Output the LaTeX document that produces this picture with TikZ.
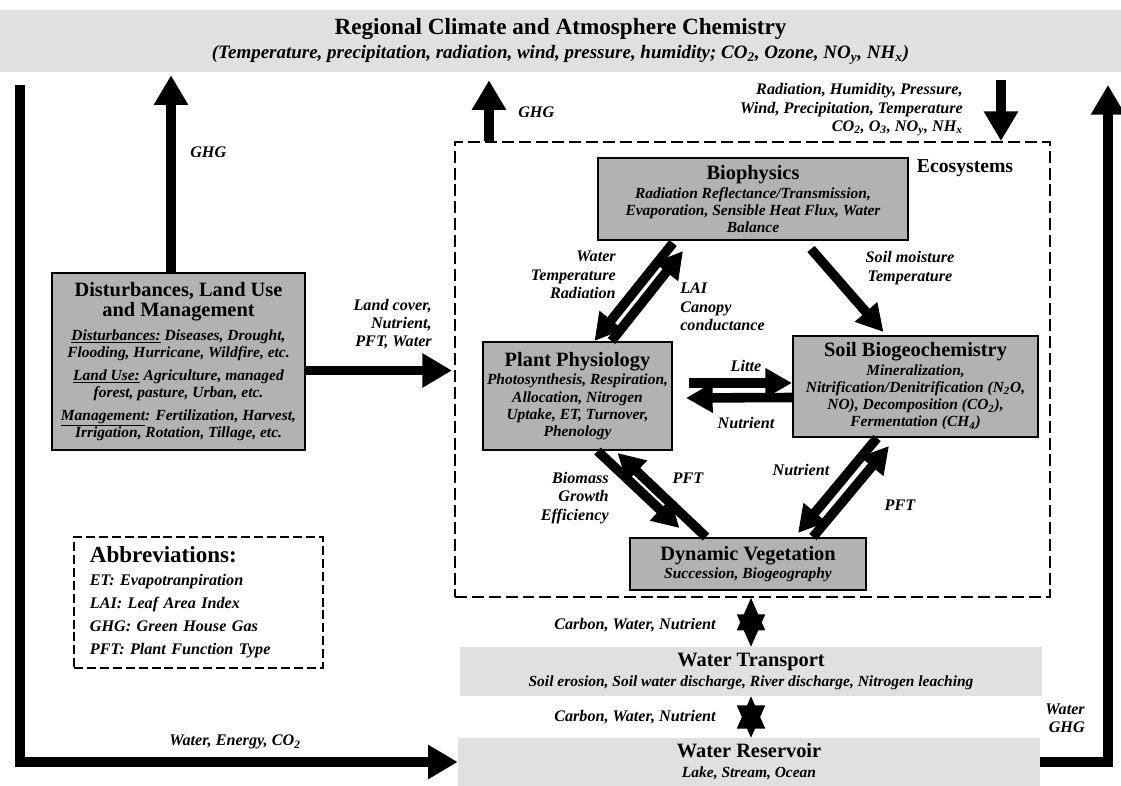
\documentclass[tikz,border=0pt]{standalone}
\usepackage{fontspec}
\setmainfont{Liberation Serif}
\usetikzlibrary{arrows.meta,positioning,calc}

\definecolor{boxgray}{RGB}{178,178,178}
\definecolor{bandgray}{RGB}{224,224,224}
\newcommand{\pxu}{0.025cm}
\newcommand{\hd}[1]{{\upshape\fontsize{14.5}{16}\selectfont #1}}

\begin{document}
\begin{tikzpicture}[x=0.025cm, y=-0.025cm,
    font=\bfseries\itshape\fontsize{11}{12.2}\selectfont,
    box/.style={draw, line width=1.4pt, fill=boxgray, align=center, inner sep=0pt},
    band/.style={fill=bandgray, align=center, inner sep=0pt},
    lbl/.style={font=\bfseries\itshape\fontsize{11.5}{13}\selectfont, inner sep=0pt},
    big/.style={line width=7pt, -{Triangle[width=23pt,length=21pt]}},
    fat/.style={line width=6.8pt, -{Triangle[width=20pt,length=19pt]}},
    star/.style={line width=1pt, {Triangle[width=20pt,length=23pt]}-{Triangle[width=20pt,length=23pt]}}]

    \useasboundingbox (0,0) rectangle (1121,786);

    \node[band, minimum width=1121*\pxu, minimum height=62*\pxu] (climate) at (560.5,41)
        {{\upshape\fontsize{16.5}{18}\selectfont Regional Climate and Atmosphere Chemistry}\\[3pt]
         {\fontsize{13.5}{15}\selectfont (Temperature, precipitation, radiation, wind, pressure, humidity; CO\textsubscript{2}, Ozone, NO\textsubscript{y}, NH\textsubscript{x})}};

    \node[box, minimum width=253*\pxu, minimum height=177*\pxu] (dist) at (178.5,361.5)
        {\hd{Disturbances, Land Use}\\[1pt] \hd{and Management}\\[5pt]
         \underline{Disturbances:} Diseases, Drought,\\ Flooding, Hurricane, Wildfire, etc.\\[4pt]
         \underline{Land Use:} Agriculture, managed\\ forest, pasture, Urban, etc.\\[4pt]
         \underline{Management}: Fertilization, Harvest,\\ Irrigation, Rotation, Tillage, etc.};

    \node[draw, dashed, dash pattern=on 8.5pt off 3.5pt, line width=1.4pt,
          minimum width=595*\pxu, minimum height=455*\pxu] (eco) at (752.5,369.5) {};
    \node[font=\bfseries\fontsize{14}{16}\selectfont] (ecolbl) at (965,168) {Ecosystems};

    \node[box, minimum width=310*\pxu, minimum height=82*\pxu] (bio) at (753,199)
        {\hd{Biophysics}\\[1pt] Radiation Reflectance/Transmission,\\ Evaporation, Sensible Heat Flux, Water\\ Balance};
    \node[box, minimum width=189*\pxu, minimum height=108*\pxu] (plant) at (577.5,396)
        {\hd{Plant Physiology}\\[1pt] Photosynthesis, Respiration,\\ Allocation, Nitrogen\\ Uptake, ET, Turnover,\\ Phenology};
    \node[box, minimum width=245*\pxu, minimum height=101*\pxu] (soil) at (915.5,386.5)
        {\hd{Soil Biogeochemistry}\\[1pt] Mineralization,\\ Nitrification/Denitrification (N\textsubscript{2}O,\\ NO), Decomposition (CO\textsubscript{2}),\\ Fermentation (CH\textsubscript{4})};
    \node[box, minimum width=236*\pxu, minimum height=52*\pxu] (dyn) at (748,564)
        {\hd{Dynamic Vegetation}\\[1pt] Succession, Biogeography};

    \node[band, minimum width=582*\pxu, minimum height=49*\pxu] (transport) at (751,671.5)
        {\hd{Water Transport}\\[2pt] Soil erosion, Soil water discharge, River discharge, Nitrogen leaching};
    \node[band, minimum width=582*\pxu, minimum height=48*\pxu] (reservoir) at (749,762)
        {\hd{Water Reservoir}\\[2pt] Lake, Stream, Ocean};

    \node[draw, dashed, dash pattern=on 6.4pt off 2.8pt, line width=1.3pt, anchor=west,
          text width=217*\pxu, inner xsep=16*\pxu, minimum height=131*\pxu, align=left,
          font=\bfseries\itshape\fontsize{11.5}{16.4}\selectfont] (abbr) at (73,602.5)
        {{\upshape\fontsize{16.4}{18}\selectfont Abbreviations:}\\ ET: Evapotranpiration\\ LAI: Leaf Area Index\\ GHG: Green House Gas\\ PFT: Plant Function Type};

    \coordinate (ltop) at (20,85);
    \coordinate (rtop) at (1108,85);

    % outer loop
    \draw[big] (ltop) |- (reservoir.west);
    \draw[big] (reservoir.east) -| (rtop);
    \draw[big] ($(dist.north)+(-7.5,0)$) -- ($(dist.north |- climate.south)+(-7.5,3)$);
    \draw[big] ($(dist.east)+(0,9)$) -- ($(dist.east -| eco.west)+(-2,9)$);
    \draw[big] ($(eco.north west)+(35,0)$) -- ($(eco.north west |- climate.south)+(35,8)$);
    \draw[big] ($(eco.north east |- climate.south)+(-50,8)$) -- ($(eco.north east)+(-50,0)$);

    % inside ecosystems
    \draw[fat] ($(bio.south)+(58,8)$) -- ($(soil.north)+(-32,-3)$);
    \draw[fat] ($(bio.south)+(-80,2)$) -- ($(plant.north)+(17,0)$);
    \draw[fat] ($(plant.north)+(34,0)$) -- ($(bio.south)+(-70,10)$);
    \draw[fat] ($(plant.east)+(16,-13)$) -- ($(soil.west)+(0,-3.5)$);
    \draw[fat] ($(soil.west)+(0,11)$) -- ($(plant.east)+(13,2)$);
    \draw[fat] ($(plant.south)+(20,0)$) -- ($(dyn.north)+(-68.5,-9)$);
    \draw[fat] ($(dyn.north)+(-42,0)$) -- ($(plant.south)+(40,2)$);
    \draw[fat] ($(soil.south)+(-38.5,0)$) -- ($(dyn.north)+(50,-4)$);
    \draw[fat] ($(dyn.north)+(65,0)$) -- ($(soil.south)+(-26.5,8)$);

    % water exchange
    \draw[star] (eco.south -| transport.north) -- (transport.north);
    \draw[star] (transport.south) -- (reservoir.north -| transport.south);

    % labels
    \node[lbl, anchor=west] (lghga) at (190,152) {GHG};
    \node[lbl, anchor=east, align=right] (lland) at (432,324) {Land cover,\\ Nutrient,\\ PFT, Water};
    \node[lbl, anchor=west] (lghgb) at (518,112) {GHG};
    \node[lbl, anchor=east, align=right] (lclim) at (963,110)
        {Radiation, Humidity, Pressure,\\ Wind, Precipitation, Temperature\\ CO\textsubscript{2}, O\textsubscript{3}, NO\textsubscript{y}, NH\textsubscript{x}};
    \node[lbl, anchor=east, align=right] (lwtr) at (616,275) {Water\\ Temperature\\ Radiation};
    \node[lbl, anchor=west, align=left] (llai) at (680,307) {LAI\\ Canopy\\ conductance};
    \node[lbl, align=center] (lsm) at (910,268) {Soil moisture\\ Temperature};
    \node[lbl] (llitte) at (746,366) {Litte};
    \node[lbl] (lnuta) at (746,423) {Nutrient};
    \node[lbl, anchor=east, align=right] (lbio) at (609,498) {Biomass\\ Growth\\ Efficiency};
    \node[lbl] (lpfta) at (688,478) {PFT};
    \node[lbl] (lnutb) at (801,470) {Nutrient};
    \node[lbl] (lpftb) at (900,505) {PFT};
    \node[lbl, anchor=east] (lcwna) at (716,625) {Carbon, Water, Nutrient};
    \node[lbl, anchor=east] (lcwnb) at (716,717) {Carbon, Water, Nutrient};
    \node[lbl] (lwe) at (235,742) {Water, Energy, CO\textsubscript{2}};
    \node[lbl, anchor=east, align=right] (lwg) at (1085,718) {Water\\ GHG};
\end{tikzpicture}
\end{document}
